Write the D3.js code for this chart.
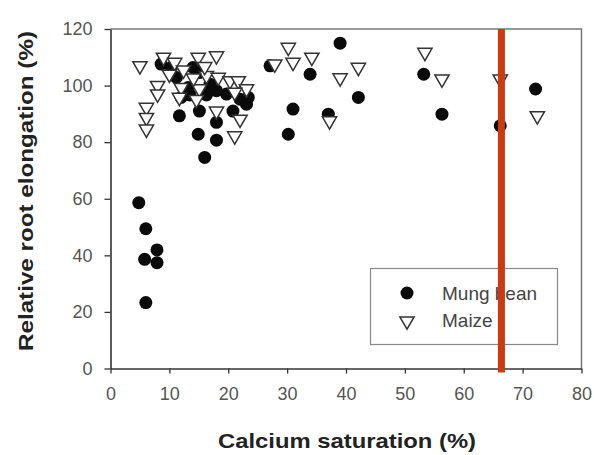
<!DOCTYPE html>
<html>
<head>
<meta charset="utf-8">
<script src="https://cdn.jsdelivr.net/npm/d3@7"></script>
<style>
  body { margin: 0; background: #fff; }
  svg { display: block; font-family: "Liberation Sans", Arial, sans-serif; }
</style>
</head>
<body>
<div class="chart"></div>
<script>
// Chart size
let width = 594;
let height = 455;

// Plot area edges in pixels
let margin = { top: 29, right: 12.5, bottom: 86.5, left: 110.5 };

// Mung bean values (calcium saturation %, relative root elongation %)
const mungX = [4.8, 6, 5.8, 7.9, 7.9, 6,
    8.6, 10.3, 11.2, 14, 15.1, 16.9, 18, 19.7, 22, 23.4, 12, 11.7, 15.1, 18, 20.8, 14.9, 18, 16, 13.2, 23.1, 13.5, 16.3,
    27.1, 33.9, 39, 42.1, 31, 37, 30.2, 53.2, 56.3, 66.2, 72.2];
const mungY = [58.6, 49.4, 38.6, 41.9, 37.4, 23.3,
    107.6, 106.4, 102.9, 106.4, 104.6, 100.5, 98.2, 97, 95.2, 95.8, 95.8, 89.3, 91, 87, 91, 82.8, 80.7, 74.6, 99.3, 93.4, 96.7, 96.7,
    107, 104, 115, 95.8, 91.7, 89.9, 82.8, 104, 89.9, 85.8, 98.8];

// Maize values
const maizeX = [5, 8, 8, 6.1, 6.1, 6.1, 9, 10.9, 10, 12, 11.7, 14.9, 18, 16.3, 15.1, 18.3, 20.3, 21.7, 23.1, 21.1, 18, 22, 21.1,
    12.4, 14.1, 16, 14.6,
    27.9, 30.2, 31, 34.2, 42.1, 39, 37.2, 53.4, 56.3, 66.2, 72.5];
const maizeY = [107, 100, 97, 92.3, 88.7, 84.6, 110, 108.2, 104, 99.3, 95.8, 110, 110.5, 103.5, 98.8, 102.9, 101.7, 101.7, 98.8, 97.6, 91, 88.1, 82.2,
    105.5, 102.6, 106.7, 95,
    107.6, 113.5, 108.2, 110, 106.4, 102.7, 87.5, 111.7, 102.3, 102.3, 89.3];

// Tick values and threshold line
const xTicks = [0, 10, 20, 30, 40, 50, 60, 70, 80];
const yTicks = [0, 20, 40, 60, 80, 100, 120];
const threshold = 66.4;
const seriesNames = ["Mung bean", "Maize"];

let svg = d3.select(".chart").append("svg")
    .attr("width", width)
    .attr("height", height);

const xScale = d3.scaleLinear()
    .domain([0, 80])
    .range([margin.left, width - margin.right]);

const yScale = d3.scaleLinear()
    .domain([0, 120])
    .range([height - margin.bottom, margin.top]);

// Frame top and right
svg.append("path")
    .attr("d", `M${xScale(0)},${yScale(120)}H${xScale(80)}V${yScale(0)}`)
    .attr("fill", "none")
    .attr("stroke", "#777")
    .attr("stroke-width", 1.5);

// x axis
let xAxis = svg.append("g")
    .attr("transform", `translate(0, ${yScale(0)})`)
    .call(d3.axisBottom(xScale).tickValues(xTicks).tickSize(5).tickPadding(14).tickSizeOuter(0));

// y axis
let yAxis = svg.append("g")
    .attr("transform", `translate(${xScale(0)}, 0)`)
    .call(d3.axisLeft(yScale).tickValues(yTicks).tickSize(6).tickPadding(12).tickSizeOuter(0));

[xAxis, yAxis].forEach(ax => {
    ax.select(".domain").attr("stroke", "#333").attr("stroke-width", 1.6);
    ax.selectAll(".tick line").attr("stroke", "#333").attr("stroke-width", 1.3);
    ax.selectAll(".tick text").attr("fill", "#555").attr("font-size", 18).attr("font-family", "Liberation Sans, Arial, sans-serif");
});

// Axis titles
svg.append("text")
    .attr("x", 347)
    .attr("y", 448)
    .attr("text-anchor", "middle")
    .attr("font-size", 21)
    .attr("font-weight", "bold")
    .attr("fill", "#222")
    .attr("textLength", 258)
    .attr("lengthAdjust", "spacingAndGlyphs")
    .text("Calcium saturation (%)");

svg.append("text")
    .attr("transform", `translate(33, 191) rotate(-90)`)
    .attr("text-anchor", "middle")
    .attr("font-size", 21)
    .attr("font-weight", "bold")
    .attr("fill", "#222")
    .attr("textLength", 320)
    .attr("lengthAdjust", "spacingAndGlyphs")
    .text("Relative root elongation (%)");

// Points: mung bean circles first, maize triangles drawn over them
const mung = mungX.map((x, i) => ({ x: x, y: mungY[i] }));
const maize = maizeX.map((x, i) => ({ x: x, y: maizeY[i] }));

const triangle = d3.symbol().type(d3.symbolTriangle).size(88);

svg.selectAll(".mung").data(mung).enter()
    .append("circle")
    .attr("class", "mung")
    .attr("cx", d => xScale(d.x))
    .attr("cy", d => yScale(d.y))
    .attr("r", 6.5)
    .attr("fill", "#0a0a0a");

svg.selectAll(".maize").data(maize).enter()
    .append("path")
    .attr("class", "maize")
    .attr("d", triangle)
    .attr("transform", d => `translate(${xScale(d.x)}, ${yScale(d.y)}) rotate(180)`)
    .attr("fill", "#fff")
    .attr("stroke", "#333")
    .attr("stroke-width", 1.5);

// Legend
let legend = svg.append("g");
legend.append("rect")
    .attr("x", 370.5).attr("y", 268.5)
    .attr("width", 187).attr("height", 76)
    .attr("fill", "#fff")
    .attr("stroke", "#888")
    .attr("stroke-width", 1.2);

legend.append("circle")
    .attr("cx", 407).attr("cy", 293)
    .attr("r", 6.5)
    .attr("fill", "#0a0a0a");

legend.append("path")
    .attr("d", triangle)
    .attr("transform", "translate(407, 321) rotate(180)")
    .attr("fill", "#fff")
    .attr("stroke", "#333")
    .attr("stroke-width", 1.5);

legend.selectAll(".label").data(seriesNames).enter()
    .append("text")
    .attr("class", "label")
    .attr("x", 442)
    .attr("y", (d, i) => 300 + i * 27)
    .attr("font-size", 19)
    .attr("fill", "#444")
    .text(d => d);

// Red threshold line on top of everything
svg.append("line")
    .attr("x1", xScale(threshold)).attr("x2", xScale(threshold))
    .attr("y1", yScale(120)).attr("y2", yScale(0) + 4)
    .attr("stroke", "#cc3a12")
    .attr("stroke-width", 7);
</script>
</body>
</html>
